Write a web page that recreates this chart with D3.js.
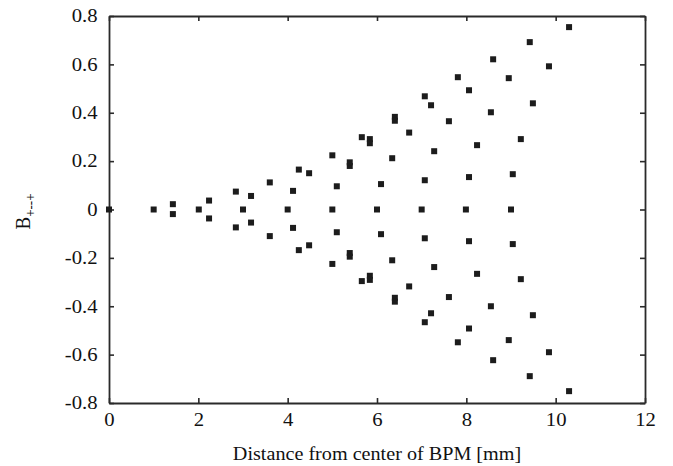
<!DOCTYPE html>
<html>
<head>
<meta charset="utf-8">
<script src="https://cdn.jsdelivr.net/npm/d3@7"></script>
<style>
  body { margin: 0; background: #fff; }
  text { font-family: "Liberation Serif", "DejaVu Serif", serif; fill: #111; }
</style>
</head>
<body>
<svg width="673" height="466"></svg>
<script>
// distance from BPM centre [mm] and the B+--+ value for each point
const dist = [
  0, 1.0, 1.43, 1.43, 2.01, 2.24, 2.24, 2.84, 2.84, 3.0, 3.18, 3.18, 3.60, 3.60,
  4.0, 4.12, 4.12, 4.25, 4.25, 4.48, 4.48, 5.0, 5.0, 5.10, 5.10, 5.0,
  5.39, 5.39, 5.39, 5.39, 5.66, 5.66, 5.84, 5.84, 5.84, 5.84,
  6.34, 6.34, 6.09, 6.09, 6.0, 6.40, 6.40, 6.40, 6.40,
  6.72, 6.72, 7.28, 7.28, 7.07, 7.07, 7.0,
  7.07, 7.07, 7.21, 7.21, 7.61, 7.61, 8.24, 8.24, 8.06, 8.06, 7.99,
  7.81, 7.81, 8.06, 8.06, 8.55, 8.55, 9.22, 9.22, 9.04, 9.04, 9.0,
  8.60, 8.60, 8.95, 8.95, 9.49, 9.49, 9.42, 9.42, 9.85, 9.85, 10.30, 10.30
];
const bval = [
  0, 0, 0.022, -0.019, 0, 0.037, -0.037, 0.074, -0.074, 0, 0.056, -0.054, 0.112, -0.11,
  0, 0.077, -0.076, 0.165, -0.168, 0.15, -0.148, 0.224, -0.225, 0.096, -0.094, 0,
  0.18, 0.195, -0.18, -0.195, 0.299, -0.296, 0.291, 0.274, -0.274, -0.291,
  0.212, -0.21, 0.105, -0.102, 0, 0.383, 0.367, -0.365, -0.381,
  0.318, -0.318, 0.241, -0.238, 0.121, -0.119, 0,
  0.468, -0.466, 0.431, -0.429, 0.365, -0.362, 0.266, -0.266, 0.134, -0.131, 0,
  0.547, -0.549, 0.493, -0.492, 0.402, -0.4, 0.291, -0.288, 0.146, -0.143, 0,
  0.621, -0.623, 0.543, -0.54, 0.439, -0.437, 0.692, -0.689, 0.592, -0.59, 0.754, -0.751
];
const xTicks = [0, 2, 4, 6, 8, 10, 12];
const yTicks = [0.8, 0.6, 0.4, 0.2, 0, -0.2, -0.4, -0.6, -0.8];
const yTickLabels = ["0.8", "0.6", "0.4", "0.2", "0", "-0.2", "-0.4", "-0.6", "-0.8"];

const pl = 109, pt = 16, pr = 645, pb = 403;
const stretch = "scale(1.15,1)"; // the reference glyphs are a bit wide

const svg = d3.select("svg");
const x = d3.scaleLinear().domain([0, 12]).range([pl, pr]);
const y = d3.scaleLinear().domain([-0.8, 0.8]).range([pb, pt]);

function style(g) {
  g.selectAll("path, line").attr("stroke", "#2a2a2a").attr("stroke-width", 1.6);
  g.selectAll("text").attr("font-size", 18).attr("transform", stretch);
}

svg.append("g")
  .attr("transform", `translate(0,${pb})`)
  .call(d3.axisBottom(x).tickValues(xTicks).tickSizeInner(-5).tickSizeOuter(0).tickPadding(10))
  .call(style);

svg.append("g")
  .attr("transform", `translate(0,${pt})`)
  .call(d3.axisTop(x).tickValues(xTicks).tickSizeInner(-5).tickSizeOuter(0).tickFormat(""))
  .call(style);

svg.append("g")
  .attr("transform", `translate(${pl},0)`)
  .call(d3.axisLeft(y).tickValues(yTicks).tickSizeInner(-5).tickSizeOuter(0).tickPadding(10)
    .tickFormat((d, i) => yTickLabels[i]))
  .call(style);

svg.append("g")
  .attr("transform", `translate(${pr},0)`)
  .call(d3.axisRight(y).tickValues(yTicks).tickSizeInner(-5).tickSizeOuter(0).tickFormat(""))
  .call(style);

svg.selectAll(".domain").attr("stroke-width", 1.8);

// points
const sz = 6;
svg.append("g")
  .selectAll("rect")
  .data(dist.map((d, i) => [d, bval[i]]))
  .join("rect")
  .attr("x", d => x(d[0]) - sz / 2)
  .attr("y", d => y(d[1]) - sz / 2)
  .attr("width", sz)
  .attr("height", sz)
  .attr("fill", "#1c1c1c");

// axis titles
svg.append("text")
  .attr("transform", `translate(${(pl + pr) / 2},460) scale(1.12,1)`)
  .attr("text-anchor", "middle")
  .attr("font-size", 18)
  .text("Distance from center of BPM [mm]");

const yl = svg.append("text")
  .attr("transform", `translate(30,${(pt + pb) / 2 + 2}) rotate(-90) scale(1,1.15)`)
  .attr("text-anchor", "middle")
  .attr("font-size", 19);
yl.append("tspan").text("B");
yl.append("tspan").attr("font-size", 13).attr("dy", 4).text("+--+");
</script>
</body>
</html>
